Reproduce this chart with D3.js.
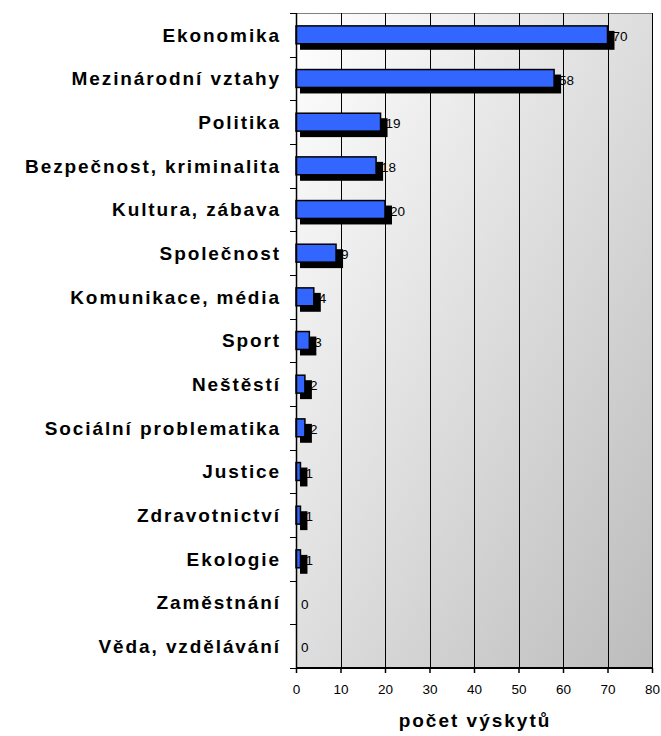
<!DOCTYPE html>
<html>
<head>
<meta charset="utf-8">
<script src="https://cdn.jsdelivr.net/npm/d3@7"></script>
<style>
  html, body { margin: 0; padding: 0; background: #fff; }
  svg { display: block; font-family: "Liberation Sans", Arial, sans-serif; }
</style>
</head>
<body>
<svg id="chart" width="661" height="736"></svg>
<script>
const categories = [
  "Ekonomika", "Mezinárodní vztahy", "Politika", "Bezpečnost, kriminalita",
  "Kultura, zábava", "Společnost", "Komunikace, média", "Sport", "Neštěstí",
  "Sociální problematika", "Justice", "Zdravotnictví", "Ekologie",
  "Zaměstnání", "Věda, vzdělávání"
];
const values = [70, 58, 19, 18, 20, 9, 4, 3, 2, 2, 1, 1, 1, 0, 0];
const xTicks = [0, 10, 20, 30, 40, 50, 60, 70, 80];
const xTitle = "počet výskytů";

(function () {
const data = categories.map((c, i) => ({ cat: c, val: values[i] }));

const svg = d3.select("#chart");
const pLeft = 296, pRight = 652, pTop = 13, pBottom = 668;

const x = d3.scaleLinear().domain([0, 80]).range([pLeft, pRight]);
const y = d3.scaleBand().domain(categories).range([pTop, pBottom])
  .paddingInner(0.59).paddingOuter(0.295);

// gradient background
const defs = svg.append("defs");
const grad = defs.append("linearGradient").attr("id", "bg")
  .attr("x1", 0).attr("y1", 0).attr("x2", 1).attr("y2", 1);
grad.append("stop").attr("offset", "0%").attr("stop-color", "#ffffff");
grad.append("stop").attr("offset", "100%").attr("stop-color", "#bcbcbc");

svg.append("rect")
  .attr("x", pLeft).attr("y", pTop)
  .attr("width", pRight - pLeft).attr("height", pBottom - pTop)
  .attr("fill", "url(#bg)");

// top border
svg.append("line")
  .attr("x1", pLeft).attr("x2", pRight).attr("y1", pTop + 0.5).attr("y2", pTop + 0.5)
  .attr("stroke", "#808080").attr("stroke-width", 1);

// gridlines
svg.append("g").selectAll("line").data(xTicks.filter(t => t > 0)).join("line")
  .attr("x1", d => Math.round(x(d)) + 0.5).attr("x2", d => Math.round(x(d)) + 0.5)
  .attr("y1", pTop).attr("y2", pBottom)
  .attr("stroke", "#000").attr("stroke-width", 1);

// shadows
const bw = y.bandwidth();
svg.append("g").selectAll("rect").data(data.filter(d => d.val > 0)).join("rect")
  .attr("x", d => x(0) + 4)
  .attr("y", d => y(d.cat) + 5)
  .attr("width", d => x(d.val) - x(0) + 3)
  .attr("height", bw + 1)
  .attr("fill", "#000");

// bars
svg.append("g").selectAll("rect").data(data.filter(d => d.val > 0)).join("rect")
  .attr("x", x(0))
  .attr("y", d => y(d.cat))
  .attr("width", d => x(d.val) - x(0))
  .attr("height", bw)
  .attr("fill", "#3366ff")
  .attr("stroke", "#000").attr("stroke-width", 1.5);

// value labels
svg.append("g").selectAll("text").data(data).join("text")
  .attr("x", d => x(d.val) + 5)
  .attr("y", d => y(d.cat) + bw / 2)
  .attr("dy", "0.45em")
  .attr("font-size", 13.5)
  .attr("fill", "#000")
  .text(d => d.val);

// y axis
const yAxisG = svg.append("g");
yAxisG.append("line")
  .attr("x1", pLeft + 0.5).attr("x2", pLeft + 0.5).attr("y1", pTop).attr("y2", pBottom)
  .attr("stroke", "#000").attr("stroke-width", 1.5);
const boundaries = d3.range(categories.length + 1).map(i => pTop + i * y.step());
yAxisG.selectAll("line.tick").data(boundaries).join("line").attr("class", "tick")
  .attr("x1", pLeft - 6).attr("x2", pLeft)
  .attr("y1", d => Math.round(d) + 0.5).attr("y2", d => Math.round(d) + 0.5)
  .attr("stroke", "#000").attr("stroke-width", 1);
yAxisG.selectAll("text").data(categories).join("text")
  .attr("x", 281)
  .attr("y", d => y(d) + bw / 2)
  .attr("dy", "0.36em")
  .attr("text-anchor", "end")
  .attr("font-size", 19)
  .attr("font-weight", "bold")
  .attr("letter-spacing", "1.9px")
  .text(d => d);

// x axis
const xAxis = d3.axisBottom(x).tickValues(xTicks).tickSize(5).tickPadding(11);
const xg = svg.append("g").attr("transform", `translate(0,${pBottom})`).call(xAxis);
xg.select(".domain").attr("stroke", "#000").attr("stroke-width", 2)
  .attr("d", `M${pLeft},0H${pRight}`);
xg.selectAll(".tick line").attr("stroke", "#000").attr("stroke-width", 1.5);
xg.selectAll(".tick text").attr("font-size", 13.5).attr("fill", "#000")
  .attr("font-family", "'Liberation Sans', Arial, sans-serif");

// x title
svg.append("text")
  .attr("x", (pLeft + pRight) / 2 + 1)
  .attr("y", 727)
  .attr("text-anchor", "middle")
  .attr("font-size", 19)
  .attr("font-weight", "bold")
  .attr("letter-spacing", "2px")
  .text(xTitle);
})();
</script>
</body>
</html>
